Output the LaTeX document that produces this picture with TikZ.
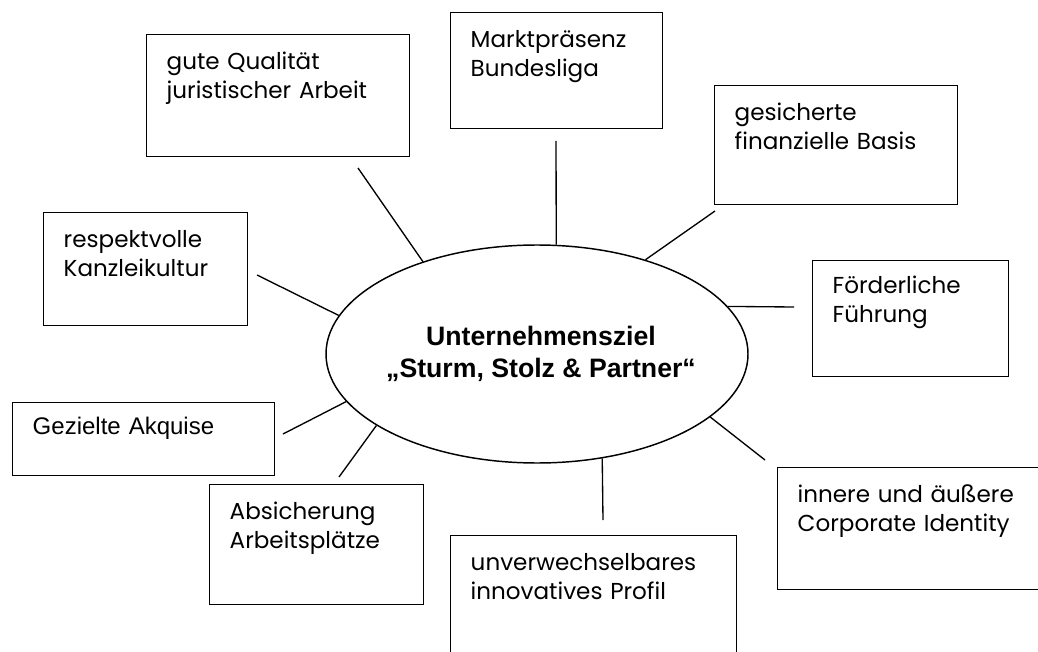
\documentclass[tikz,border=0pt]{standalone}
\usepackage{fontspec}
\setmainfont{Poppins}
\newfontfamily\arialfont{Liberation Sans}
\usetikzlibrary{shapes.geometric}

\begin{document}
\begin{tikzpicture}[x=0.75pt,y=-0.75pt,
  feld/.style={draw,line width=1.1pt,rectangle,anchor=north west,align=left,
    inner xsep=15pt,inner ysep=0pt,text height=26.25pt,
    font=\fontsize{17.3}{21.75}\selectfont},
  strich/.style={line width=1pt}]
\useasboundingbox (0,0) rectangle (1038,652);
\clip (0,0) rectangle (1038,652);

\node[draw,ellipse,line width=1.1pt,minimum width=316.5pt,minimum height=163.5pt,inner sep=0pt,
  label={[align=center,xshift=3pt,yshift=0pt,font=\arialfont\bfseries\fontsize{20}{24}\selectfont]center:Unternehmensziel\\„Sturm, Stolz \& Partner“}] (ziel) at (537,354) {};

\node[feld,text width=167.25pt,text depth=65.25pt] (qual) at (146,34) {gute Qualität\\juristischer Arbeit};
\node[feld,text width=129pt,text depth=60.75pt] (markt) at (450,12) {Marktpräsenz\\Bundesliga};
\node[feld,text width=152.25pt,text depth=63pt] (finanz) at (714,85) {gesicherte\\finanzielle Basis};
\node[feld,text width=117pt,text height=24.75pt,text depth=62.25pt] (fuehrung) at (812,260) {Förderliche\\Führung};
\node[feld,text width=123pt,text depth=58.5pt] (kultur) at (43,212) {respektvolle\\Kanzleikultur};
\node[feld,text width=166.5pt,text height=24pt,text depth=30.75pt,font=\arialfont\fontsize{18}{21.75}\selectfont] (akquise) at (12,402) {Gezielte Akquise};
\node[feld,text width=130.5pt,text depth=63.75pt] (arbeit) at (209,484) {Absicherung\\Arbeitsplätze};
\node[feld,text width=184.5pt,text depth=86.25pt] (profil) at (450,535) {unverwechselbares\\innovatives Profil};
\node[feld,text width=195pt,text depth=65.25pt] (identitaet) at (777,467) {innere und äußere\\Corporate Identity};

\coordinate (qual-e) at (358,168);
\coordinate (markt-e) at (556,141);
\coordinate (finanz-e) at (715,211);
\coordinate (fuehrung-e) at (794,307);
\coordinate (kultur-e) at (257,275);
\coordinate (akquise-e) at (283,434);
\coordinate (arbeit-e) at (339,477);
\coordinate (profil-e) at (603,520);
\coordinate (identitaet-e) at (765,460);

\draw[strich] (qual-e)--(ziel.141);
\draw[strich] (markt-e)--(ziel.80);
\draw[strich] (finanz-e)--(ziel.41);
\draw[strich] (fuehrung-e)--(ziel.14);
\draw[strich] (kultur-e)--(ziel.169);
\draw[strich] (akquise-e)--(ziel.194);
\draw[strich] (arbeit-e)--(ziel.204);
\draw[strich] (profil-e)--(ziel.302);
\draw[strich] (identitaet-e)--(ziel.340);
\end{tikzpicture}
\end{document}
